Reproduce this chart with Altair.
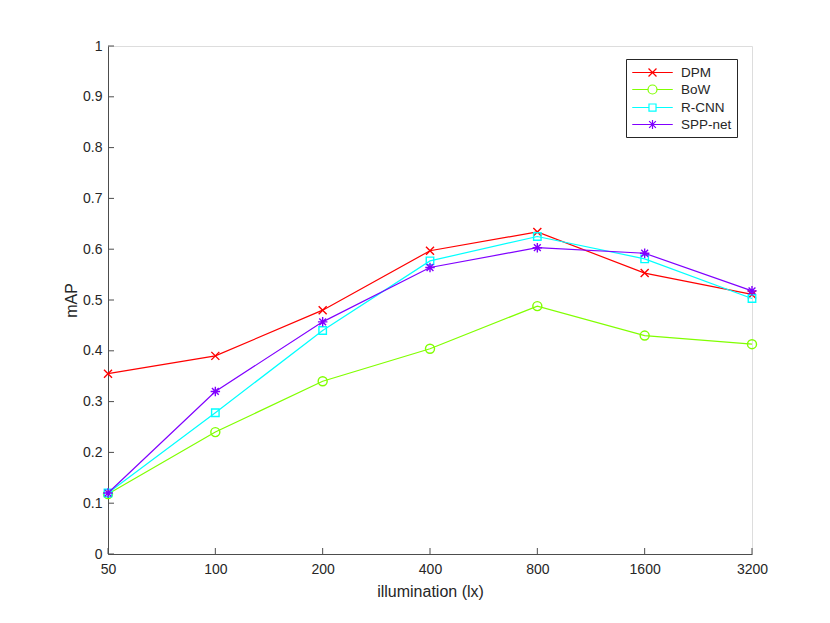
import altair as alt
import pandas as pd

methods = ["DPM", "BoW", "R-CNN", "SPP-net"]
illumination = [50, 100, 200, 400, 800, 1600, 3200]
dpm = [0.355, 0.390, 0.480, 0.597, 0.634, 0.553, 0.511]
bow = [0.118, 0.240, 0.340, 0.404, 0.488, 0.430, 0.413]
rcnn = [0.120, 0.278, 0.440, 0.577, 0.625, 0.581, 0.503]
spp = [0.120, 0.320, 0.457, 0.564, 0.603, 0.592, 0.518]
y_ticks = [0, 0.1, 0.2, 0.3, 0.4, 0.5, 0.6, 0.7, 0.8, 0.9, 1.0]

colors = ["#ff0000", "#80ff00", "#00ffff", "#8000ff"]
markers = [
    "M-1,-1L1,1M-1,1L1,-1",
    "circle",
    "square",
    "M-1,0H1M0,-1V1M-0.72,-0.72L0.72,0.72M-0.72,0.72L0.72,-0.72",
]
marker_sizes = [64, 81, 56, 90]
legend_paths = [
    "M-2.7,0H2.7M-0.53,-0.53L0.53,0.53M-0.53,0.53L0.53,-0.53",
    "M-2.7,0H-0.6M0.6,0H2.7M0.6,0A0.6,0.6 0 1,1 -0.6,0A0.6,0.6 0 1,1 0.6,0",
    "M-2.7,0H-0.47M0.47,0H2.7M-0.47,-0.47H0.47V0.47H-0.47Z",
    "M-2.7,0H2.7M0,-0.6V0.6M-0.45,-0.45L0.45,0.45M-0.45,0.45L0.45,-0.45",
]

series = {"DPM": dpm, "BoW": bow, "R-CNN": rcnn, "SPP-net": spp}
rows = []
for m in methods:
    for lx, v in zip(illumination, series[m]):
        rows.append({"method": m, "lux": lx, "mAP": v})
df = pd.DataFrame(rows)

FONT = "Liberation Sans"
TXT = "#262626"
AXC = "#4d4d4d"

x_enc = alt.X(
    "lux:O",
    sort=illumination,
    scale=alt.Scale(domain=illumination, type="point", padding=0),
    axis=alt.Axis(
        title="illumination (lx)", labelAngle=0, tickSize=0, labelPadding=8,
        titlePadding=7, labelFontSize=14, titleFontSize=16,
        labelFont=FONT, titleFont=FONT, labelColor=TXT, titleColor=TXT,
        titleFontWeight="normal", domainColor=AXC, domainWidth=1, grid=False,
    ),
)
y_enc = alt.Y(
    "mAP:Q",
    scale=alt.Scale(domain=[0, 1], nice=False, zero=True),
    axis=alt.Axis(
        title="mAP", values=y_ticks, format="~g", tickSize=0, labelPadding=6,
        titlePadding=3, labelFontSize=14, titleFontSize=16,
        labelFont=FONT, titleFont=FONT, labelColor=TXT, titleColor=TXT,
        titleFontWeight="normal", domainColor=AXC, domainWidth=1, grid=False,
    ),
)

base = alt.Chart(df)

legend = alt.Legend(
    title=None, orient="none", legendX=518, legendY=13,
    symbolSize=225, symbolStrokeWidth=1.2, symbolOffset=13, labelOffset=20,
    symbolOpacity=1, symbolFillColor="transparent",
    labelFont=FONT, labelFontSize=13.5, labelColor=TXT,
    fillColor="white", strokeColor="#262626", padding=5, rowPadding=2,
    cornerRadius=0,
)

legend_layer = base.mark_point(filled=False, opacity=0).encode(
    x=x_enc, y=y_enc,
    color=alt.Color("method:N", scale=alt.Scale(domain=methods, range=colors), legend=legend),
    shape=alt.Shape("method:N", scale=alt.Scale(domain=methods, range=legend_paths), legend=legend),
)

layers = [legend_layer]

ytick_df = pd.DataFrame({"t": y_ticks})
xtick_df = pd.DataFrame({"lux": illumination})
layers.append(
    alt.Chart(ytick_df).mark_rule(color=AXC, strokeWidth=1).encode(
        y=alt.Y("t:Q", scale=alt.Scale(domain=[0, 1], nice=False)),
        x=alt.value(0), x2=alt.value(6),
    )
)
layers.append(
    alt.Chart(xtick_df).mark_rule(color=AXC, strokeWidth=1).encode(
        x=alt.X("lux:O", sort=illumination, scale=alt.Scale(domain=illumination, type="point", padding=0)),
        y=alt.value(508), y2=alt.value(502),
    )
)

for m, c, mk, sz in zip(methods, colors, markers, marker_sizes):
    sub = base.transform_filter(alt.datum.method == m)
    layers.append(sub.mark_line(color=c, strokeWidth=1.2).encode(x=x_enc, y=y_enc))
    layers.append(
        sub.mark_point(filled=False, color=c, shape=mk, size=sz, strokeWidth=1.4, opacity=1).encode(
            x=x_enc, y=y_enc
        )
    )

chart = alt.layer(*layers).properties(
    width=644, height=508,
    autosize=alt.AutoSizeParams(type="none"),
    padding={"left": 100, "top": 38, "right": 70, "bottom": 60},
).configure_view(stroke=None).configure(background="white")

chart.save("out.html", embed_options={"renderer": "svg", "actions": False})
